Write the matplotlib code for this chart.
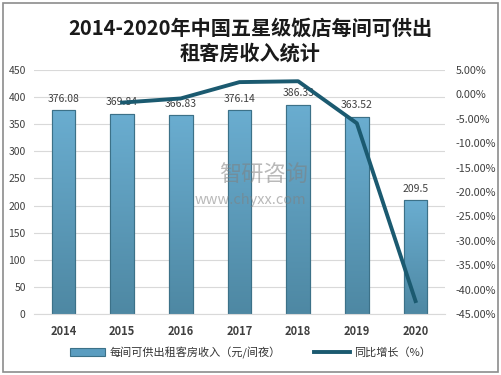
import matplotlib.pyplot as plt
from matplotlib.ticker import FuncFormatter, MultipleLocator
from matplotlib.colors import LinearSegmentedColormap
import numpy as np

plt.rcParams['font.family'] = ['Noto Sans CJK SC', 'DejaVu Sans']

years = ['2014', '2015', '2016', '2017', '2018', '2019', '2020']
revpar = [376.08, 369.84, 366.83, 376.14, 386.33, 363.52, 209.5]
growth_years = ['2015', '2016', '2017', '2018', '2019', '2020']
growth = [-1.66, -0.81, 2.54, 2.72, -5.90, -42.37]

bar_col = '#5b9dc0'
edge_col = '#3c7188'
line_col = '#1b5a70'
txt_col = '#404040'
grad = LinearSegmentedColormap.from_list('barfade', ['#4e88a3', '#6aadd0'])

fig = plt.figure(figsize=(5.01, 3.75), dpi=100)
fig.patches.append(plt.Rectangle((0.006, 0.008), 0.988, 0.985, transform=fig.transFigure,
                                 fill=False, edgecolor='#8c8c8c', linewidth=1.2))

ax = fig.add_axes([0.068, 0.163, 0.82, 0.65])
x = np.arange(len(years))
bars = ax.bar(x, revpar, width=0.4, color=bar_col, edgecolor=edge_col, linewidth=0.8, zorder=2)

# vertical gradient fill inside each bar, then redraw the outline on top
g = np.linspace(0, 1, 128).reshape(-1, 1)
for b in bars:
    bx, by = b.get_x(), b.get_y()
    im = ax.imshow(g, cmap=grad, origin='lower', aspect='auto', zorder=2.1,
                   extent=[bx, bx + b.get_width(), by, by + b.get_height()])
    im.set_clip_path(b)
ax.bar(x, revpar, width=0.4, fill=False, edgecolor=edge_col, linewidth=0.8, zorder=2.2)

for xi, v in zip(x, revpar):
    ax.text(xi, v + 12, f'{v:g}', ha='center', va='bottom', fontsize=7.5, color=txt_col, zorder=5)

ax.set_xlim(-0.5, len(years) - 0.5)
ax.set_ylim(0, 450)
ax.yaxis.set_major_locator(MultipleLocator(50))
ax.grid(axis='y', color='#d9d9d9', linewidth=0.8, zorder=0)
ax.set_xticks(x)
ax.set_xticklabels(years, fontsize=8, fontweight='bold', color=txt_col)
ax.tick_params(axis='y', labelsize=7.5, colors=txt_col, length=0, pad=6)
ax.tick_params(axis='x', length=0, pad=8)
for s in ['top', 'right', 'left']:
    ax.spines[s].set_visible(False)
ax.spines['bottom'].set_color('#d9d9d9')

ax2 = ax.twinx()
gx = [years.index(y) for y in growth_years]
line, = ax2.plot(gx, growth, color=line_col, linewidth=2.8, zorder=4)
ax2.set_ylim(-45, 5)
ax2.yaxis.set_major_locator(MultipleLocator(5))
ax2.yaxis.set_major_formatter(FuncFormatter(lambda v, p: f'{v:.2f}%'))
ax2.tick_params(axis='y', labelsize=7.8, colors=txt_col, length=0, pad=8)
for s in ['top', 'right', 'left', 'bottom']:
    ax2.spines[s].set_visible(False)

# watermark
fig.text(0.527, 0.533, '智研咨询', ha='center', va='center', fontsize=16,
         color='#808080', alpha=0.55)
fig.text(0.5, 0.467, 'www.chyxx.com', ha='center', va='center', fontsize=10.5,
         color='#808080', alpha=0.55)

fig.text(0.5, 0.892, '2014-2020年中国五星级饭店每间可供出\n租客房收入统计', ha='center', va='center',
         fontsize=14.5, fontweight='bold', color='#1a1a1a', linespacing=1.2)

fig.legend([bars, line], ['每间可供出租客房收入（元/间夜）', '同比增长（%）'],
           loc='center', bbox_to_anchor=(0.5, 0.06), ncol=2, frameon=False,
           fontsize=8, handlelength=3.2, handletextpad=0.4, columnspacing=3,
           labelcolor='#333333')

fig.savefig('out.png', dpi=100)
